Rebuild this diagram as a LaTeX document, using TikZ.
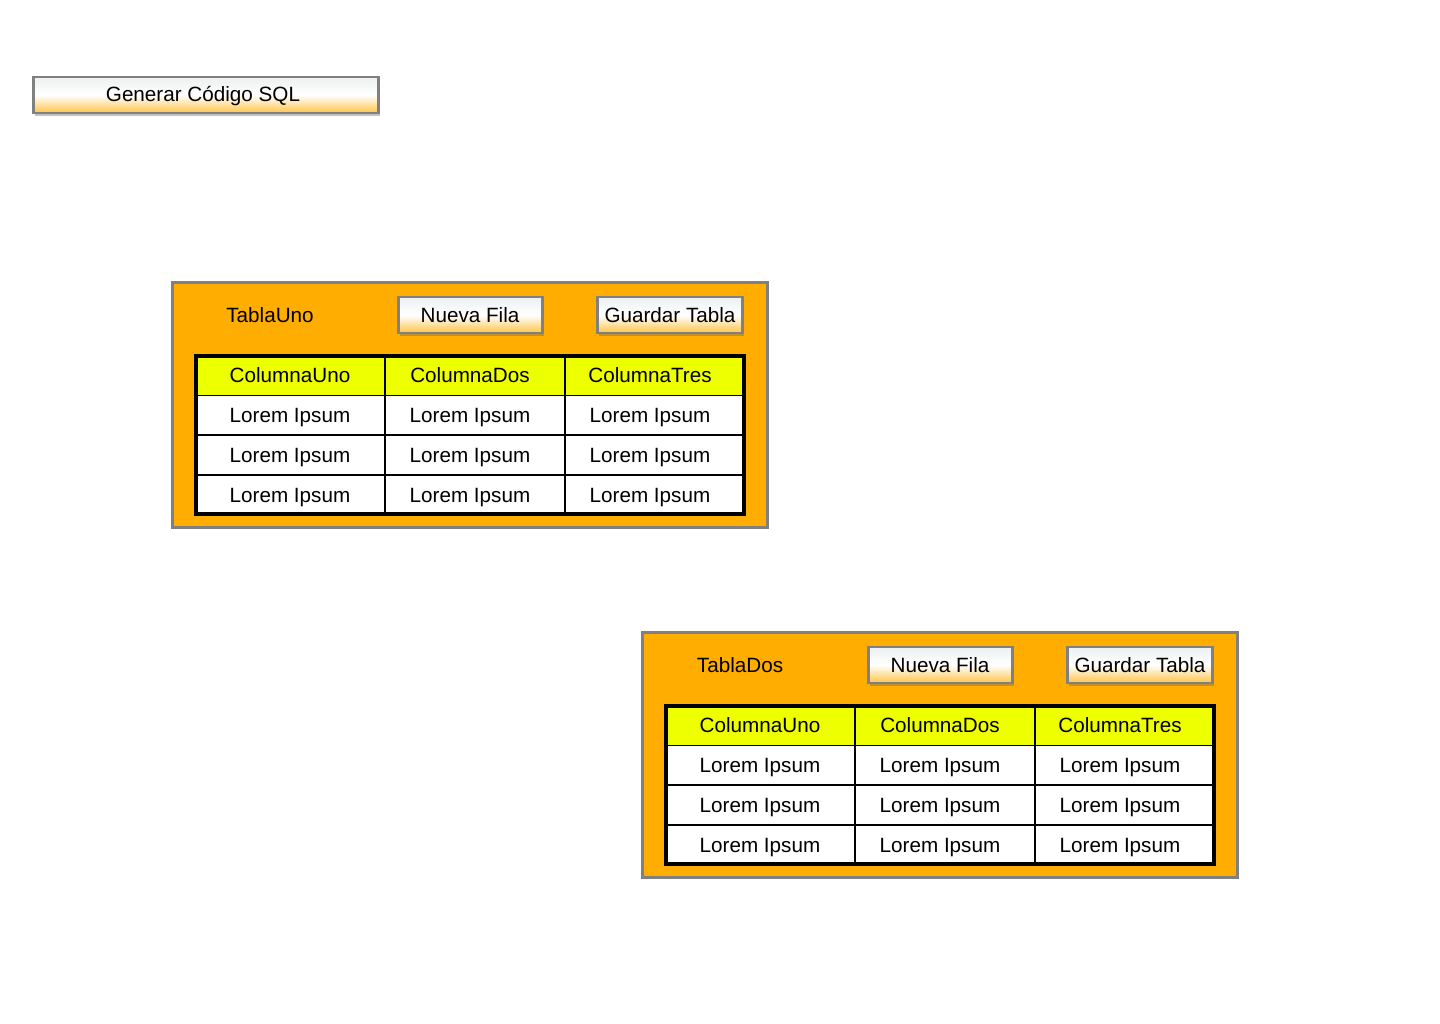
\documentclass[tikz,border=0pt]{standalone}
\usepackage{fontspec}
\setmainfont{Liberation Sans}
\usetikzlibrary{shadows}
\definecolor{panelorange}{RGB}{255,173,0}
\definecolor{hdryellow}{RGB}{238,255,0}
\definecolor{bordergray}{RGB}{128,128,128}
\definecolor{btnorange}{RGB}{255,196,70}
\definecolor{btntop}{RGB}{236,240,240}
\begin{document}
\begin{tikzpicture}[x=0.75pt,y=-0.75pt,
  font=\fontsize{15.5}{18}\selectfont,
  btn/.style={draw=bordergray, line width=2.2pt, top color=btntop, bottom color=btnorange, middle color=white,
    drop shadow={shadow xshift=1.2pt, shadow yshift=-2.2pt, opacity=0.4, fill=black!60},
    inner sep=0pt, minimum height=27pt},
  panel/.style={draw=bordergray, fill=panelorange, line width=2pt, inner sep=0pt},
  celltext/.style={inner sep=0pt, anchor=base},
  rowline/.style={line width=1.4pt},
  colline/.style={line width=0.9pt},
  gridframe/.style={line width=2.3pt}]
\useasboundingbox (0,0) rectangle (1440,1024);
\node[btn, minimum width=259pt] (sql) at (206,95) {};
\node[celltext] (sqltext) at (203,102) {Generar Código SQL};

\newcommand{\mytabla}[4]{%
\begin{scope}[shift={(#2,#3)}]
\node[panel, minimum width=446pt, minimum height=184pt] (#1panel) at (470,405) {};
\node[celltext] (#1title) at (270,322) {#4};
\node[btn, minimum width=108pt] (#1nueva) at (470.5,315) {};
\node[celltext] (#1nuevatext) at (470,322) {Nueva Fila};
\node[btn, minimum width=109pt] (#1guardar) at (670,315) {};
\node[celltext] (#1guardartext) at (670,322) {Guardar Tabla};
\fill[hdryellow] (196,356) rectangle (744,395.5);
\fill[white] (196,395.5) rectangle (744,514);
\draw[rowline] (196,395.5) -- (744,395.5);
\draw[rowline] (196,435) -- (744,435);
\draw[rowline] (196,475) -- (744,475);
\draw[colline] (385,356) -- (385,514);
\draw[colline] (565,356) -- (565,514);
\draw[gridframe] (196,356) rectangle (744,514);
\node[celltext] (#1h1) at (290,382.5) {ColumnaUno};
\node[celltext] (#1h2) at (470,382.5) {ColumnaDos};
\node[celltext] (#1h3) at (650,382.5) {ColumnaTres};
\foreach \r/\yy in {1/422.5,2/462.5,3/502.5}{
  \node[celltext] (#1r\r c1) at (290,\yy) {Lorem Ipsum};
  \node[celltext] (#1r\r c2) at (470,\yy) {Lorem Ipsum};
  \node[celltext] (#1r\r c3) at (650,\yy) {Lorem Ipsum};
}
\end{scope}}
\mytabla{a}{0}{0}{TablaUno}
\mytabla{b}{470}{350}{TablaDos}
\end{tikzpicture}
\end{document}
